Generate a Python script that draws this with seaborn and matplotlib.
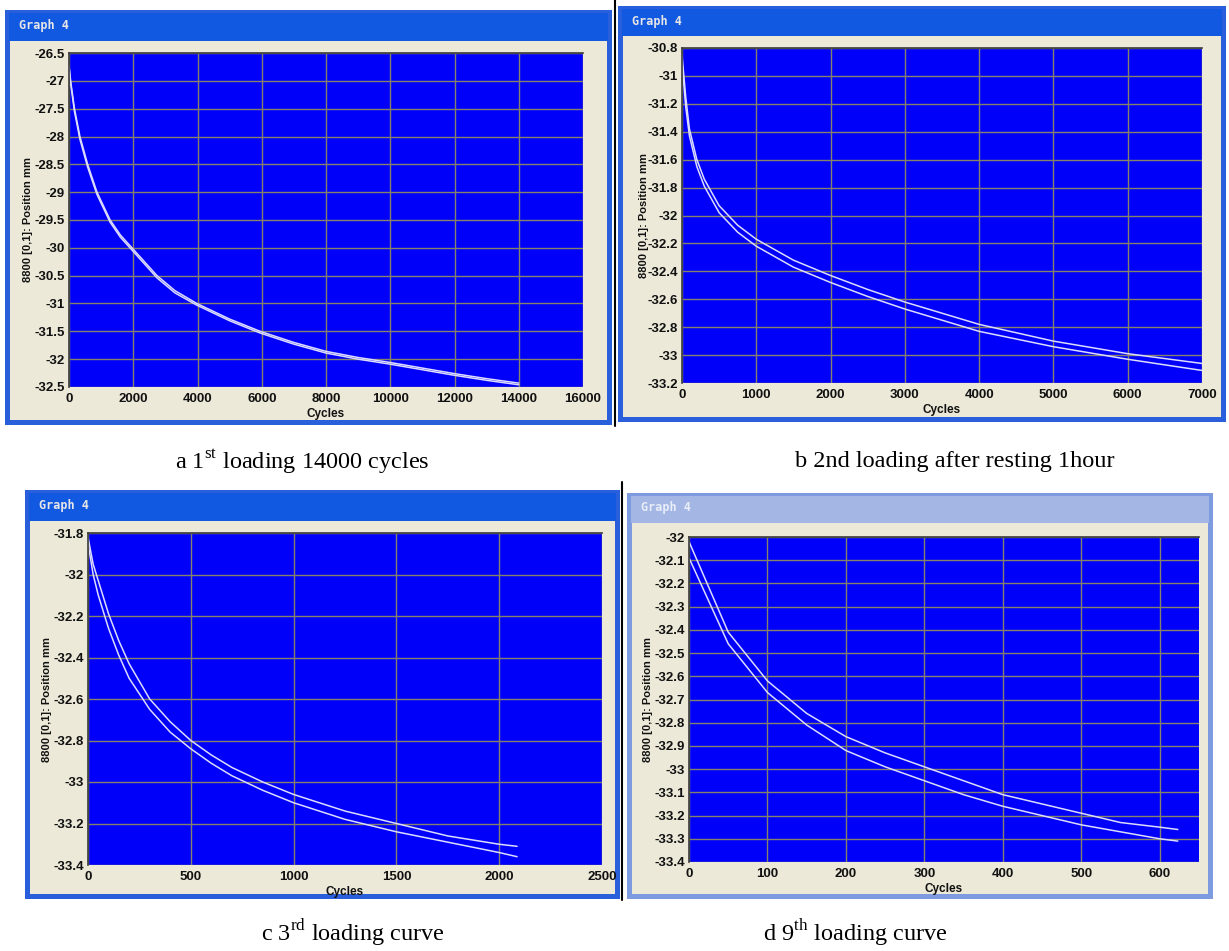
import numpy as np
import pandas as pd
import matplotlib
matplotlib.use("Agg")
import matplotlib.pyplot as plt
import seaborn as sns
from matplotlib.patches import Rectangle
from matplotlib.lines import Line2D

sns.set_style("white")
plt.rcParams['font.family'] = ['Liberation Sans', 'DejaVu Sans']
plt.rcParams['mathtext.fontset'] = 'custom'
plt.rcParams['mathtext.rm'] = 'Liberation Serif'

# ---------------- data ----------------
a_cycles = [0, 50, 170, 340, 580, 870, 1280, 1600, 1960, 2740, 3300, 3980, 5000, 5950, 7000, 8000, 9000, 10000, 11000, 12000, 13000, 14000]
a_upper = [-26.72, -27.0, -27.5, -28.0, -28.5, -29.0, -29.5, -29.77, -30.0, -30.5, -30.77, -31.0, -31.28, -31.5, -31.70, -31.86, -31.97, -32.06, -32.16, -32.26, -32.35, -32.43]
a_lower = [-26.75, -27.04, -27.55, -28.05, -28.55, -29.04, -29.54, -29.81, -30.04, -30.54, -30.81, -31.03, -31.31, -31.53, -31.73, -31.89, -32.00, -32.09, -32.19, -32.29, -32.38, -32.46]

b_cycles = [0, 50, 100, 200, 300, 500, 750, 1000, 1500, 2000, 2500, 3000, 4000, 5000, 6000, 7000]
b_upper = [-30.85, -31.15, -31.38, -31.60, -31.74, -31.93, -32.07, -32.17, -32.32, -32.43, -32.53, -32.62, -32.78, -32.90, -32.99, -33.06]
b_lower = [-30.90, -31.22, -31.43, -31.65, -31.79, -31.98, -32.12, -32.22, -32.37, -32.48, -32.58, -32.67, -32.83, -32.94, -33.03, -33.11]

c_cycles = [0, 25, 50, 100, 150, 200, 300, 400, 500, 600, 700, 850, 1000, 1250, 1500, 1750, 2000, 2087]
c_upper = [-31.82, -31.95, -32.03, -32.19, -32.32, -32.43, -32.60, -32.71, -32.80, -32.87, -32.93, -33.00, -33.06, -33.14, -33.20, -33.26, -33.30, -33.31]
c_lower = [-31.85, -32.00, -32.10, -32.26, -32.39, -32.50, -32.65, -32.76, -32.84, -32.91, -32.97, -33.04, -33.10, -33.18, -33.24, -33.29, -33.34, -33.36]

d_cycles = [0, 50, 100, 150, 200, 250, 300, 350, 400, 450, 500, 550, 600, 623]
d_upper = [-32.02, -32.41, -32.62, -32.76, -32.86, -32.93, -32.99, -33.05, -33.11, -33.15, -33.19, -33.23, -33.25, -33.26]
d_lower = [-32.09, -32.46, -32.67, -32.81, -32.92, -32.99, -33.05, -33.11, -33.16, -33.20, -33.24, -33.27, -33.30, -33.31]

captions = [r"a 1$^{\rm st}$ loading 14000 cycles",
            "b 2nd loading after resting 1hour",
            r"c 3$^{\rm rd}$ loading curve",
            r"d 9$^{\rm th}$ loading curve"]
window_title = "Graph 4"
y_label = "8800 [0,1]: Position mm"
x_label = "Cycles"

# ---------------- layout helpers ----------------
W, H = 1229, 951
fig = plt.figure(figsize=(W / 100, H / 100), dpi=100)
fig.patch.set_facecolor('white')


def rect(x0, y0, x1, y1, color, z=0):
    fig.add_artist(Rectangle((x0 / W, 1 - y1 / H), (x1 - x0) / W, (y1 - y0) / H,
                             transform=fig.transFigure, facecolor=color,
                             edgecolor='none', zorder=z))


def vline(x, y0, y1, color='black', lw=1.5):
    fig.add_artist(Line2D([x / W, x / W], [1 - y0 / H, 1 - y1 / H],
                          transform=fig.transFigure, color=color, lw=lw))


BEIGE = '#ece9d8'
PLOT_BLUE = '#0000fa'
LINE_COL = '#dcdcff'
GRID_COL = '#85826c'

panels = [
    dict(win=(5, 10, 612, 425), title_h=31, active=True,
         ax=(69, 53, 583, 387), x=a_cycles, up=a_upper, lo=a_lower,
         xlim=(0, 16000), xstep=2000, ylim=(-32.5, -26.5), ystep=0.5,
         ylab_x=28, cap=(302, 462)),
    dict(win=(618, 6, 1226, 422), title_h=30, active=True,
         ax=(682, 48, 1202, 383), x=b_cycles, up=b_upper, lo=b_lower,
         xlim=(0, 7000), xstep=1000, ylim=(-33.2, -30.8), ystep=0.2,
         ylab_x=644, cap=(955, 462)),
    dict(win=(25, 490, 620, 899), title_h=31, active=True,
         ax=(88, 533, 602, 865), x=c_cycles, up=c_upper, lo=c_lower,
         xlim=(0, 2500), xstep=500, ylim=(-33.4, -31.8), ystep=0.2,
         ylab_x=47, cap=(353, 933)),
    dict(win=(627, 493, 1213, 899), title_h=30, active=False,
         ax=(689, 537, 1199, 862), x=d_cycles, up=d_upper, lo=d_lower,
         xlim=(0, 650), xstep=100, ylim=(-33.4, -32.0), ystep=0.1,
         ylab_x=648, cap=(855, 933)),
]

for p in panels:
    x0, y0, x1, y1 = p['win']
    frame = '#2a5fdc' if p['active'] else '#7f9be0'
    title_c = '#1259e2' if p['active'] else '#a3b6e4'
    rect(x0, y0, x1, y1, frame, z=0)
    rect(x0 + 4, y0 + 3, x1 - 4, y0 + p['title_h'], title_c, z=0.5)
    rect(x0 + 5, y0 + p['title_h'], x1 - 5, y1 - 5, BEIGE, z=1)
    fig.text((x0 + 14) / W, 1 - (y0 + 15) / H, window_title,
             family='DejaVu Sans Mono', weight='bold', fontsize=8.5,
             color='#e6e6e6' if p['active'] else '#e8edf8', va='center', ha='left', zorder=2)

    ax_x0, ax_y0, ax_x1, ax_y1 = p['ax']
    ax = fig.add_axes([ax_x0 / W, 1 - ax_y1 / H, (ax_x1 - ax_x0) / W, (ax_y1 - ax_y0) / H])
    ax.set_zorder(3)
    ax.set_facecolor(PLOT_BLUE)
    df = pd.DataFrame({'cycles': p['x'] + p['x'],
                       'pos': p['up'] + p['lo'],
                       'curve': ['upper'] * len(p['x']) + ['lower'] * len(p['x'])})
    sns.lineplot(data=df, x='cycles', y='pos', units='curve', estimator=None,
                 color=LINE_COL, linewidth=1.1, ax=ax, legend=False, sort=False)
    ax.set_xlim(*p['xlim'])
    ax.set_ylim(*p['ylim'])
    xt = np.arange(p['xlim'][0], p['xlim'][1] + 1e-9, p['xstep'])
    xt = xt[xt <= p['xlim'][1]]
    yt = np.round(np.arange(p['ylim'][0], p['ylim'][1] + 1e-9, p['ystep']), 2)
    ax.set_xticks(xt)
    ax.set_yticks(yt)
    ax.set_xticklabels(['%g' % v for v in xt])
    ax.set_yticklabels(['%g' % v for v in yt])
    ax.tick_params(axis='both', length=0, labelsize=9.5, colors='#111111')
    ax.tick_params(axis='x', pad=4)
    ax.tick_params(axis='y', pad=3)
    for lab in ax.get_xticklabels() + ax.get_yticklabels():
        lab.set_fontweight('bold')
    ax.grid(True, color=GRID_COL, linewidth=1.0)
    ax.set_axisbelow(True)
    for s in ['right', 'bottom']:
        ax.spines[s].set_visible(False)
    for s in ['top', 'left']:
        ax.spines[s].set_color('#3a3a3a')
        ax.spines[s].set_linewidth(1.2)
    ax.set_xlabel('')
    ax.set_ylabel('')
    # axis titles
    fig.text((ax_x0 + ax_x1) / 2 / W, 1 - (ax_y1 + 27) / H, x_label,
             ha='center', va='center', fontsize=8.5, weight='bold', color='#111111', zorder=4)
    fig.text(p['ylab_x'] / W, 1 - (ax_y0 + ax_y1) / 2 / H, y_label, rotation=90,
             ha='center', va='center', fontsize=8, weight='bold', color='#111111', zorder=4)

# separators between windows
vline(615, 0, 426)
vline(622, 482, 900)

# captions
for p, cap in zip(panels, captions):
    cx, cy = p['cap']
    fig.text(cx / W, 1 - cy / H, cap, ha='center', va='center',
             family='Liberation Serif', fontsize=17.5, color='black')

fig.savefig('out.png', dpi=100, facecolor='white')
